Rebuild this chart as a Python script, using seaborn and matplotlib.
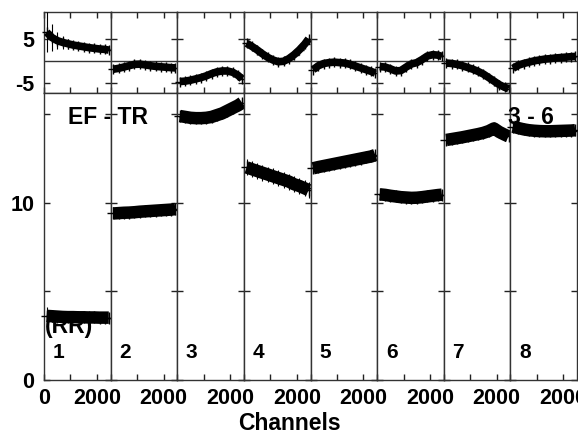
import matplotlib
matplotlib.use("Agg")
import matplotlib.pyplot as plt
import seaborn as sns

# channel positions sampled along each detector panel
channels = [100, 300, 500, 700, 900, 1100, 1300, 1500, 1700, 1900, 2100, 2300, 2450]
panel_names = ["1", "2", "3", "4", "5", "6", "7", "8"]

# ratio values (lower panel), one list per detector
ratio_1 = [3.62, 3.6, 3.58, 3.56, 3.55, 3.55, 3.54, 3.54, 3.53, 3.53, 3.52, 3.52, 3.52]
ratio_2 = [9.4, 9.42, 9.44, 9.45, 9.47, 9.5, 9.52, 9.54, 9.56, 9.58, 9.6, 9.62, 9.65]
ratio_3 = [14.9, 14.85, 14.8, 14.78, 14.78, 14.8, 14.85, 14.95, 15.05, 15.2, 15.35, 15.5, 15.65]
ratio_4 = [12.0, 11.9, 11.8, 11.7, 11.6, 11.5, 11.4, 11.3, 11.2, 11.05, 10.95, 10.82, 10.72]
ratio_5 = [11.95, 12.02, 12.08, 12.14, 12.2, 12.26, 12.32, 12.38, 12.44, 12.5, 12.56, 12.62, 12.7]
ratio_6 = [10.48, 10.45, 10.4, 10.36, 10.32, 10.3, 10.28, 10.29, 10.32, 10.36, 10.4, 10.44, 10.46]
ratio_7 = [13.55, 13.6, 13.65, 13.7, 13.76, 13.82, 13.88, 13.95, 14.05, 14.2, 14.0, 13.85, 13.75]
ratio_8 = [14.3, 14.22, 14.15, 14.1, 14.07, 14.05, 14.04, 14.04, 14.05, 14.06, 14.07, 14.08, 14.1]

# residuals (upper panel)
resid_1 = [6.5, 5.3, 4.6, 4.2, 3.9, 3.6, 3.4, 3.2, 3.0, 2.85, 2.7, 2.6, 2.45]
resid_2 = [-1.9, -1.7, -1.4, -1.1, -0.8, -0.75, -0.9, -1.1, -1.25, -1.35, -1.45, -1.55, -1.6]
resid_3 = [-4.7, -4.6, -4.4, -4.1, -3.8, -3.4, -2.9, -2.5, -2.3, -2.3, -2.6, -3.3, -4.1]
resid_4 = [4.0, 3.3, 2.5, 1.6, 0.8, 0.2, -0.2, -0.1, 0.5, 1.4, 2.5, 3.8, 5.0]
resid_5 = [-2.0, -1.1, -0.6, -0.4, -0.3, -0.4, -0.5, -0.8, -1.2, -1.6, -2.0, -2.4, -2.8]
resid_6 = [-1.3, -1.4, -1.8, -2.3, -2.2, -1.4, -0.7, -0.4, 0.3, 1.1, 1.4, 1.3, 1.0]
resid_7 = [-0.5, -0.6, -0.8, -1.1, -1.5, -1.9, -2.4, -3.0, -3.8, -4.6, -5.4, -6.0, -6.3]
resid_8 = [-1.7, -1.0, -0.6, -0.3, 0.0, 0.2, 0.4, 0.5, 0.65, 0.75, 0.85, 0.95, 1.0]

# error bars
resid_err_1 = [4.5, 3.0, 2.0, 1.4, 1.1, 0.9, 0.8, 0.8, 0.7, 0.7, 0.7, 0.7, 0.7]
ratio_err_1 = [0.5, 0.35, 0.3, 0.25, 0.25, 0.25, 0.25, 0.25, 0.25, 0.25, 0.25, 0.25, 0.25]
resid_err = [resid_err_1, 0.7, 0.7, 0.7, 0.7, 0.7, 0.7, 0.7]
ratio_err = [ratio_err_1, 0.25, 0.25, 0.45, 0.25, 0.25, 0.25, 0.25]

ratios = [ratio_1, ratio_2, ratio_3, ratio_4, ratio_5, ratio_6, ratio_7, ratio_8]
resids = [resid_1, resid_2, resid_3, resid_4, resid_5, resid_6, resid_7, resid_8]


def style_axis(ax, top_row, first):
    for s in ax.spines.values():
        s.set_color("#333333")
        s.set_linewidth(1.0)
    ax.set_xlim(0, 2520)
    ax.tick_params(direction="in", length=4, width=1, color="#222222",
                   labelcolor="black", left=True, right=True, labelsize=15.5, pad=7)
    if top_row:
        ax.set_ylim(-7.3, 11.1)
        ax.set_yticks([-5, 5])
        ax.set_yticklabels(["-5", "5"] if first else ["", ""])
        ax.set_xticks([0, 1000, 2000])
        ax.tick_params(axis="x", top=True, bottom=True, labelbottom=False)
    else:
        ax.set_ylim(0, 16.2)
        ax.set_yticks([0, 5, 10, 15])
        ax.set_yticklabels(["0", "", "10", ""] if first else ["", "", "", ""])
        ax.set_xticks([0, 1000, 2000])
        ax.set_xticklabels(["0" if first else "", "", "2000"])
        ax.tick_params(axis="x", top=False, bottom=True, pad=6)
    ax.set_xlabel("")
    ax.set_ylabel("")


def main():
    sns.set_style("ticks")
    plt.rcParams["font.family"] = ["Liberation Sans", "DejaVu Sans"]
    plt.rcParams["font.weight"] = "bold"
    plt.rcParams["text.color"] = "black"

    fig = plt.figure(figsize=(5.78, 4.34), dpi=100)
    gs = fig.add_gridspec(2, 8, height_ratios=[81, 287], hspace=0, wspace=0,
                          left=44 / 578, right=577 / 578,
                          top=1 - 12 / 434, bottom=1 - 380 / 434)

    for i in range(8):
        ax_t = fig.add_subplot(gs[0, i])
        ax_b = fig.add_subplot(gs[1, i])

        ax_t.axhline(0, color="#333333", lw=1.0, zorder=1)
        sns.lineplot(x=channels, y=resids[i], ax=ax_t, color="black", lw=5.5,
                     solid_capstyle="butt", clip_on=False, zorder=3)
        ax_t.errorbar(channels, resids[i], yerr=resid_err[i], fmt="+", ms=7,
                      color="black", elinewidth=0.8, capsize=0, clip_on=False, zorder=3)

        sns.lineplot(x=channels, y=ratios[i], ax=ax_b, color="black", lw=9,
                     solid_capstyle="butt", clip_on=False, zorder=3)
        ax_b.errorbar(channels, ratios[i], yerr=ratio_err[i], fmt="+", ms=8,
                      color="black", elinewidth=0.8, capsize=0, clip_on=False, zorder=3)

        ax_b.text(330, 1.55, panel_names[i], ha="left", va="center",
                  fontsize=15, fontweight="bold", color="black")

        style_axis(ax_t, True, i == 0)
        style_axis(ax_b, False, i == 0)

    fig.text(68 / 578, 1 - 118 / 434, "EF - TR", ha="left", va="center",
             fontsize=16.5, fontweight="bold", color="black")
    fig.text(508 / 578, 1 - 118 / 434, "3 - 6", ha="left", va="center",
             fontsize=16.5, fontweight="bold", color="black")
    fig.text(45 / 578, 1 - 327 / 434, "(RR)", ha="left", va="center",
             fontsize=16.5, fontweight="bold", color="black")
    fig.text(0.5, 1 - 423 / 434, "Channels", ha="center", va="center",
             fontsize=16.5, fontweight="bold", color="black")

    fig.savefig("out.png", dpi=100)
    plt.close(fig)


if __name__ == "__main__":
    main()
